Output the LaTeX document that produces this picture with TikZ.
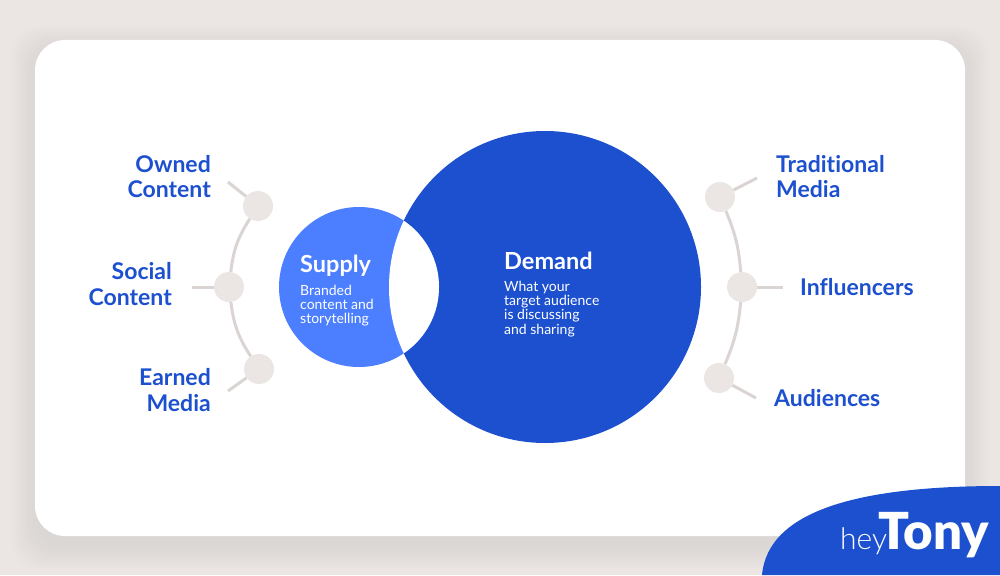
\documentclass[tikz,border=0pt]{standalone}
\usepackage{fontspec}
\setmainfont{Lato}[Ligatures=CommonOff]
\newfontfamily\heyfont{Lato Light}
\newfontfamily\tonyfont{Lato Black}
\usetikzlibrary{positioning}
\definecolor{bgrey}{HTML}{EBE6E3}
\definecolor{lgrey}{HTML}{DAD5D2}
\definecolor{dblue}{HTML}{1C50CF}
\definecolor{sblue}{HTML}{4C7FFF}
\tikzset{
	dot/.style={shape=circle,fill=bgrey,minimum size=30pt,inner sep=0pt},
	stub/.style={draw=lgrey,line width=3pt},
	lbl/.style={text=dblue,font=\fontsize{23}{25.5}\selectfont\bfseries,inner sep=0pt},
	ttl/.style={text=white,font=\fontsize{23.5}{25}\selectfont\bfseries,inner sep=0pt,anchor=west},
	txt/.style={text=white,font=\fontsize{14}{14.4}\selectfont,inner sep=0pt,align=left,anchor=north west}
}
\begin{document}
\begin{tikzpicture}[x=1pt,y=-1pt]
	\useasboundingbox (0,0) rectangle (1000,575);
	\fill[bgrey] (0,0) rectangle (1000,575);
	% soft shadow of the card
	\foreach \r in {24,21,...,0}
		\fill[black!60!bgrey,opacity=0.007,rounded corners=30pt] (35-\r,50-\r) rectangle (965+\r,546+\r);
	\fill[white,rounded corners=30pt] (35,40) rectangle (965,536);

	% circles
	\node[shape=circle,fill=dblue,minimum size=312pt,inner sep=0pt] (demand) at (545,287) {};
	\node[shape=circle,fill=sblue,minimum size=160pt,inner sep=0pt] (supply) at (359,287) {};
	\begin{scope}
		\clip (545,287) circle (156pt);
		\fill[white] (359,287) circle (80pt);
	\end{scope}
	\node[ttl] (supplyT) at (300,266) {Supply};
	\node[txt] (supplyD) at (300,284.5) {Branded\\content and\\storytelling};
	\node[ttl] (demandT) at (504,261) {Demand};
	\node[txt] (demandD) at (504,280.5) {What your\\target audience\\is discussing\\and sharing};

	% left side
	\node[dot] (owned) at (258,206) {};
	\node[dot] (social) at (229,287) {};
	\node[dot] (earned) at (259,369) {};
	\coordinate (ownedE) at (228,182);
	\coordinate (socialE) at (192,287);
	\coordinate (earnedE) at (228,391);
	\path[stub] (owned) edge[bend right=13] (social);
	\path[stub] (social) edge[bend right=13] (earned);
	\draw[stub] (owned) -- (ownedE);
	\draw[stub] (social) -- (socialE);
	\draw[stub] (earned) -- (earnedE);
	\node[lbl,align=right,anchor=east] (ownedL) at (211,176.5) {Owned\\Content};
	\node[lbl,align=right,anchor=east] (socialL) at (172,284) {Social\\Content};
	\node[lbl,align=right,anchor=east] (earnedL) at (211,390) {Earned\\Media};

	% right side
	\node[dot] (trad) at (720,197) {};
	\node[dot] (infl) at (742,287) {};
	\node[dot] (aud) at (719,378) {};
	\coordinate (tradE) at (757,178);
	\coordinate (inflE) at (783,287);
	\coordinate (audE) at (756,398);
	\path[stub] (trad) edge[bend left=9] (infl);
	\path[stub] (infl) edge[bend left=9] (aud);
	\draw[stub] (trad) -- (tradE);
	\draw[stub] (infl) -- (inflE);
	\draw[stub] (aud) -- (audE);
	\node[lbl,align=left,anchor=west] (tradL) at (776,176.5) {Traditional\\Media};
	\node[lbl,anchor=west] (inflL) at (800,287) {Influencers};
	\node[lbl,anchor=west] (audL) at (774,398.5) {Audiences};

	% logo
	\fill[dblue] (762,575) .. controls (768,510) and (860,486) .. (1000,486) -- (1000,575) -- cycle;
	\node[text=white,inner sep=0pt,anchor=base west] (logo) at (840,549) {\fontsize{30}{30}\heyfont hey\kern-8.5pt\fontsize{51}{51}\tonyfont Tony};
\end{tikzpicture}
\end{document}
